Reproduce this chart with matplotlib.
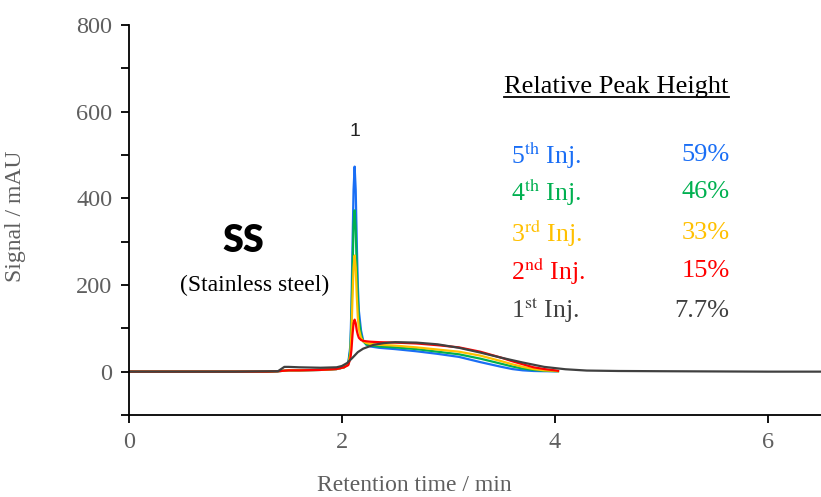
import matplotlib
matplotlib.use('Agg')
import matplotlib.pyplot as plt
from matplotlib.ticker import MultipleLocator
from matplotlib.lines import Line2D

plt.rcParams['font.family'] = 'Liberation Serif'
plt.rcParams['mathtext.fontset'] = 'stix'

# --- data ---
t_inj = [0, 0.5, 1.0, 1.3, 1.4, 1.45, 1.5, 1.6, 1.8, 1.95, 2.02, 2.06, 2.08, 2.09,
         2.10, 2.11, 2.12, 2.13, 2.14, 2.15, 2.16, 2.18, 2.20, 2.23, 2.27, 2.35,
         2.5, 2.7, 2.9, 3.1, 3.3, 3.5, 3.6, 3.7, 3.8, 3.9, 4.0, 4.03]

inj5 = [0, 0, 0, 0, 1, 2, 3, 3, 4, 6, 10, 20, 60, 150,
        290, 420, 473, 420, 300, 200, 140, 95, 72, 62, 58, 55,
        52, 47, 41, 34, 22, 11, 6, 3, 1.5, 1, 1, 1]
inj4 = [0, 0, 0, 0, 1, 2, 3, 3, 4, 6, 10, 18, 50, 120,
        230, 340, 372, 330, 240, 165, 120, 85, 70, 63, 60, 58,
        56, 52, 46, 40, 30, 18, 12, 7, 4, 2, 1, 1]
inj3 = [0, 0, 0, 0, 1, 2, 3, 3, 4, 6, 10, 16, 40, 90,
        170, 240, 268, 240, 175, 125, 98, 78, 70, 66, 64, 62,
        60, 56, 51, 46, 37, 24, 17, 11, 6, 3, 2, 1]
inj2 = [0, 0, 0, 0, 1, 2, 3, 3, 4, 6, 10, 15, 30, 50,
        85, 112, 120, 112, 95, 85, 78, 73, 71, 70, 69, 68,
        67, 65, 61, 56, 46, 32, 24, 17, 10, 6, 3, 2]

t_inj1 = [0, 1.0, 1.4, 1.43, 1.46, 1.5, 1.6, 1.8, 1.95, 2.0, 2.05, 2.1, 2.15,
          2.2, 2.3, 2.4, 2.5, 2.7, 2.9, 3.1, 3.3, 3.5, 3.7, 3.9, 4.1, 4.3,
          4.6, 5.0, 5.5, 6.0, 6.5]
inj1 = [0, 0, 1, 6, 11, 11, 10, 9, 10, 13, 20, 32, 45,
        53, 62, 66, 68, 67, 63, 55, 44, 32, 21, 11, 5.5, 2.5,
        1.5, 1, 0.5, 0, 0]

labels = [r'5$^{\rm th}$ Inj.', r'4$^{\rm th}$ Inj.', r'3$^{\rm rd}$ Inj.',
          r'2$^{\rm nd}$ Inj.', r'1$^{\rm st}$ Inj.']
rel_height = ['59%', '46%', '33%', '15%', '7.7%']
colors = ['#1a6ef5', '#00b050', '#ffc000', '#ff0000', '#404040']

fig = plt.figure(figsize=(8.21, 4.97), dpi=100)
ax = fig.add_axes([0.157, 0.165, 0.843, 0.785])

series = [(t_inj, inj5), (t_inj, inj4), (t_inj, inj3), (t_inj, inj2), (t_inj1, inj1)]
for (t, y), c in zip(series, colors):
    ax.plot(t, y, color=c, lw=1.6, solid_joinstyle='round')

ax.set_xlim(0, 6.5)
ax.set_ylim(-100, 800)
ax.xaxis.set_major_locator(MultipleLocator(2))
ax.yaxis.set_major_locator(MultipleLocator(200))
ax.yaxis.set_minor_locator(MultipleLocator(100))

for s in ['top', 'right']:
    ax.spines[s].set_visible(False)
for s in ['left', 'bottom']:
    ax.spines[s].set_linewidth(1.3)

grey = '#5f5f5f'
ax.tick_params(axis='both', which='both', direction='out', width=1.3, labelcolor=grey,
               labelsize=17.5)
ax.tick_params(axis='both', which='major', length=6, pad=6)
ax.tick_params(axis='y', which='minor', length=6)

ax.set_ylabel('Signal / mAU', color=grey, fontsize=17)
ax.set_xlabel('Retention time / min', color=grey, fontsize=17)
ax.xaxis.set_label_coords(0.412, -0.155)
ax.yaxis.set_label_coords(-0.148, 0.51)

# annotations
ax.text(2.12, 553, '1', ha='center', va='center', fontsize=14,
        family='Liberation Sans', color='#222222')
ax.text(1.07, 302, 'SS', ha='center', va='center', fontsize=27,
        family='Lato', fontweight='heavy', color='black')
ax.text(1.18, 198, '(Stainless steel)', ha='center', va='center', fontsize=17,
        color='black')

title = ax.text(4.58, 657, 'Relative Peak Height', ha='center', va='center',
                fontsize=19, color='black')

rows_y = [500, 415, 320, 233, 141]
for lab, val, c, yy in zip(labels, rel_height, colors, rows_y):
    ax.text(3.59, yy, lab, ha='left', va='center', fontsize=18.5, color=c)
    ax.text(5.64, yy, val, ha='right', va='center', fontsize=19, color=c)

# underline the title
fig.canvas.draw()
bb = title.get_window_extent().transformed(fig.transFigure.inverted())
fig.add_artist(Line2D([bb.x0, bb.x1], [bb.y0 + 0.002, bb.y0 + 0.002],
                      transform=fig.transFigure, color='black', lw=1.3))

fig.savefig('out.png', dpi=100)
